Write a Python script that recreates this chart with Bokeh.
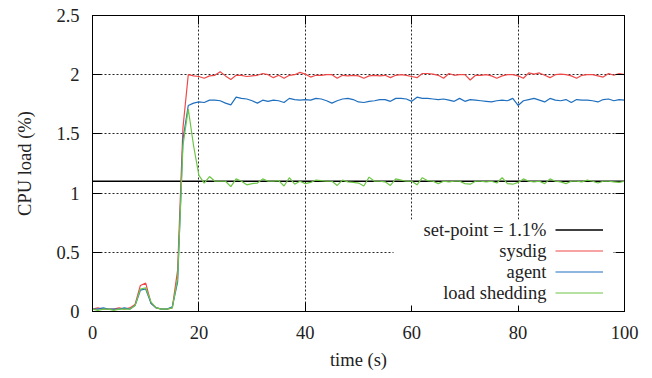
from bokeh.plotting import figure
from bokeh.models import (Range1d, FixedTicker, NumeralTickFormatter, LinearAxis,
                          CustomJSTickFormatter, Legend, LegendItem, Label, BoxAnnotation)
from bokeh.embed import file_html
from bokeh.resources import INLINE

# ---- data ----
times = list(range(0, 101))
setpoint = 1.1

sysdig = [
    0.02, 0.03, 0.02, 0.02, 0.02, 0.03, 0.02, 0.03, 0.06, 0.22,
    0.24, 0.07, 0.03, 0.02, 0.02, 0.03, 0.35, 1.55,
    2.0, 1.99, 1.985, 1.97, 1.99, 1.995, 2.025, 1.99, 1.96, 1.995,
    1.995, 1.985, 1.99, 1.995, 2.01, 2.0, 1.975, 1.995, 1.97, 1.995,
    2.0, 2.02, 2.005, 1.98, 1.995, 1.995, 2.0, 2.0, 1.97, 1.995,
    1.99, 1.995, 1.99, 1.97, 1.99, 1.995, 1.99, 1.995, 1.975, 1.995,
    2.0, 1.995, 1.985, 1.975, 2.01, 2.01, 2.005, 1.995, 1.97, 2.01,
    1.995, 2.0, 2.0, 1.955, 1.995, 1.995, 2.0, 1.99, 1.97, 1.99,
    2.0, 2.0, 1.99, 1.97, 2.015, 2.005, 2.015, 1.995, 1.975, 2.0,
    2.005, 2.0, 1.99, 1.97, 1.995, 2.0, 2.0, 1.99, 1.98, 2.01,
    1.995, 2.01, 2.0,
]

agent = [
    0.02, 0.02, 0.03, 0.02, 0.02, 0.02, 0.03, 0.02, 0.05, 0.18,
    0.19, 0.07, 0.03, 0.02, 0.02, 0.04, 0.25, 1.45,
    1.74, 1.76, 1.77, 1.765, 1.785, 1.785, 1.78, 1.76, 1.745, 1.81,
    1.80, 1.795, 1.78, 1.76, 1.785, 1.775, 1.785, 1.78, 1.765, 1.80,
    1.79, 1.785, 1.79, 1.785, 1.80, 1.795, 1.78, 1.76, 1.78, 1.795,
    1.80, 1.79, 1.77, 1.765, 1.775, 1.78, 1.79, 1.79, 1.775, 1.80,
    1.80, 1.795, 1.775, 1.81, 1.80, 1.80, 1.795, 1.79, 1.795, 1.785,
    1.775, 1.80, 1.775, 1.79, 1.785, 1.78, 1.775, 1.77, 1.78, 1.785,
    1.78, 1.80, 1.74, 1.78, 1.79, 1.80, 1.785, 1.77, 1.80, 1.785,
    1.78, 1.79, 1.765, 1.79, 1.785, 1.785, 1.78, 1.77, 1.79, 1.795,
    1.78, 1.79, 1.785,
]

shedding = [
    0.02, 0.01, 0.02, 0.02, 0.01, 0.02, 0.02, 0.02, 0.05, 0.19,
    0.20, 0.08, 0.03, 0.02, 0.02, 0.03, 0.28, 1.40,
    1.71, 1.40, 1.15, 1.085, 1.14, 1.10, 1.10, 1.10, 1.055, 1.12,
    1.10, 1.07, 1.08, 1.085, 1.12, 1.10, 1.10, 1.105, 1.06, 1.13,
    1.075, 1.10, 1.08, 1.09, 1.11, 1.105, 1.10, 1.10, 1.065, 1.11,
    1.095, 1.09, 1.085, 1.06, 1.135, 1.10, 1.10, 1.095, 1.065, 1.12,
    1.11, 1.10, 1.10, 1.07, 1.13, 1.105, 1.10, 1.08, 1.10, 1.095,
    1.10, 1.10, 1.08, 1.075, 1.10, 1.10, 1.095, 1.10, 1.085, 1.13,
    1.08, 1.075, 1.09, 1.12, 1.10, 1.095, 1.10, 1.08, 1.12, 1.10,
    1.095, 1.08, 1.10, 1.10, 1.095, 1.11, 1.10, 1.085, 1.10, 1.10,
    1.095, 1.09, 1.10,
]

x_ticks = [0, 20, 40, 60, 80, 100]
y_ticks = [0, 0.5, 1, 1.5, 2, 2.5]

series_names = ["set-point = 1.1%", "sysdig", "agent", "load shedding"]
series_colors = ["#000000", "#f04848", "#1f6fbf", "#6cc644"]

FONT = "Liberation Serif"
FS = "18.5px"

p = figure(frame_width=532, frame_height=296, output_backend="svg", toolbar_location=None,
           x_range=Range1d(0, 100), y_range=Range1d(0, 2.5),
           min_border_left=92, min_border_right=28, min_border_top=15, min_border_bottom=67)
p.background_fill_color = "white"
p.border_fill_color = "white"
p.outline_line_color = "#000000"
p.outline_line_width = 1

# grid
for g in (p.xgrid, p.ygrid):
    g.grid_line_color = "#000000"
    g.grid_line_dash = "2 2"
    g.grid_line_width = 1
    g.grid_line_alpha = 0.85
p.xgrid.ticker = FixedTicker(ticks=x_ticks)
p.ygrid.ticker = FixedTicker(ticks=y_ticks)

def style_axis(ax, ticks):
    ax.ticker = FixedTicker(ticks=ticks)
    ax.major_tick_in = 9
    ax.major_tick_out = 0
    ax.minor_tick_line_color = None
    ax.axis_line_color = "#000000"
    ax.major_tick_line_color = "#000000"
    ax.major_label_text_font = FONT
    ax.major_label_text_font_size = FS
    ax.major_label_text_color = "#222222"
    ax.axis_label_text_font = FONT
    ax.axis_label_text_font_size = FS
    ax.axis_label_text_font_style = "normal"
    ax.axis_label_text_color = "#222222"

style_axis(p.xaxis[0], x_ticks)
style_axis(p.yaxis[0], y_ticks)
p.xaxis[0].formatter = NumeralTickFormatter(format="0.[0]")
p.yaxis[0].formatter = NumeralTickFormatter(format="0.[0]")
p.xaxis[0].axis_label = "time (s)"
p.yaxis[0].axis_label = "CPU load (%)"
p.xaxis[0].major_label_standoff = 14
p.yaxis[0].major_label_standoff = 13
p.xaxis[0].axis_label_standoff = 8
p.yaxis[0].axis_label_standoff = 18

# mirrored axes (ticks only)
blank = CustomJSTickFormatter(code="return ''")
top_ax = LinearAxis(formatter=blank)
right_ax = LinearAxis(formatter=blank)
style_axis(top_ax, x_ticks)
style_axis(right_ax, y_ticks)
top_ax.major_label_standoff = 0
right_ax.major_label_standoff = 0
p.add_layout(top_ax, "above")
p.add_layout(right_ax, "right")

# data lines
r_set = p.line(times, [setpoint] * len(times), line_color=series_colors[0], line_width=1.3)
r_sys = p.line(times, sysdig, line_color=series_colors[1], line_width=1.2)
r_agent = p.line(times, agent, line_color=series_colors[2], line_width=1.2)
r_shed = p.line(times, shedding, line_color=series_colors[3], line_width=1.2)
renderers = [r_set, r_sys, r_agent, r_shed]

# legend: opaque white area, right-aligned texts, samples on the right
row_h = 21
leg_bottom = 8
n = len(series_names)
p.add_layout(BoxAnnotation(left=301, right=521, bottom=6, top=leg_bottom + n * row_h,
                           left_units="screen", right_units="screen",
                           bottom_units="screen", top_units="screen",
                           fill_color="white", fill_alpha=1.0, line_color=None))
legend = Legend(items=[LegendItem(label=" ", renderers=[r]) for r in renderers],
                location=(463, leg_bottom), glyph_width=48, glyph_height=row_h,
                label_height=row_h, label_width=0, label_standoff=0, spacing=0,
                padding=0, margin=0, border_line_color=None, background_fill_alpha=0,
                label_text_font_size="1px")
p.add_layout(legend, "center")
for i, name in enumerate(series_names):
    y = leg_bottom + (n - 1 - i) * row_h + row_h / 2
    p.add_layout(Label(x=454, y=y, x_units="screen", y_units="screen", text=name,
                       text_align="right", text_baseline="middle",
                       text_font=FONT, text_font_size=FS, text_color="#222222"))

open("out.html", "w").write(file_html(p, INLINE))
